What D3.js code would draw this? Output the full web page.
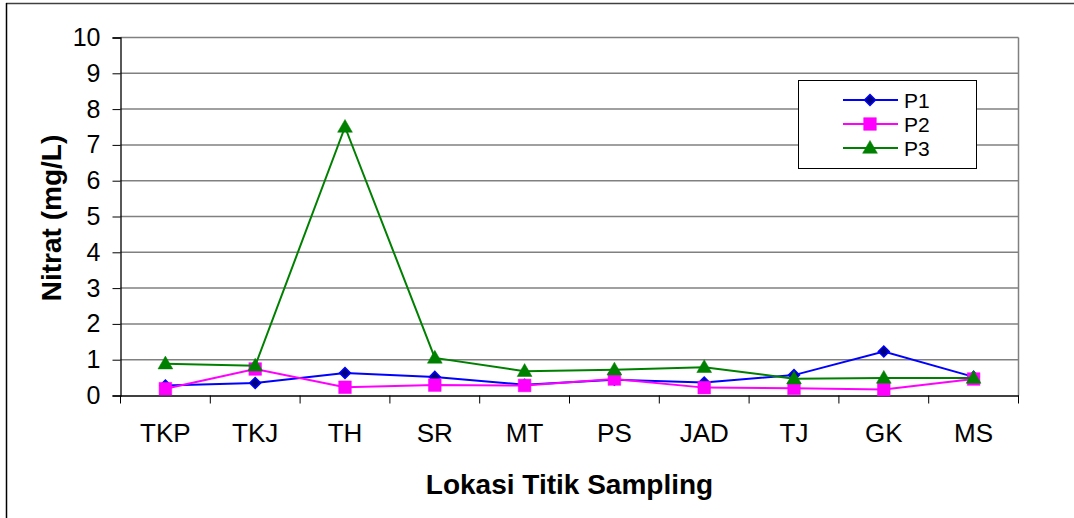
<!DOCTYPE html>
<html>
<head>
<meta charset="utf-8">
<script src="https://cdn.jsdelivr.net/npm/d3@7"></script>
<style>
html,body{margin:0;padding:0;background:#fff;}
svg{display:block;font-family:"Liberation Sans",Arial,sans-serif;}
</style>
</head>
<body>
<svg id="chart" width="1074" height="518"></svg>
<script>
const categories = ["TKP","TKJ","TH","SR","MT","PS","JAD","TJ","GK","MS"];
const p1 = [0.28,0.35,0.63,0.52,0.30,0.44,0.36,0.57,1.23,0.52];
const p2 = [0.19,0.74,0.23,0.29,0.28,0.46,0.22,0.20,0.17,0.46];
const p3 = [0.89,0.83,7.5,1.05,0.68,0.72,0.79,0.47,0.49,0.49];
const yTicks = [0,1,2,3,4,5,6,7,8,9,10];
const seriesNames = ["P1","P2","P3"];

const series = [
  {name: seriesNames[0], values: p1, color: "#0000ff", fill: "#000080", shape: d3.symbolSquare, size: 60, rot: 45},
  {name: seriesNames[1], values: p2, color: "#ff00ff", fill: "#ff00ff", shape: d3.symbolSquare, size: 160, rot: 0},
  {name: seriesNames[2], values: p3, color: "#008000", fill: "#008000", shape: d3.symbolTriangle, size: 95, rot: 0}
];

const svg = d3.select("#chart");
const L = 120.5, R = 1018.5, T = 37.5, B = 395.5;

// outer frame (top and left)
svg.append("line").attr("x1",6).attr("x2",1074).attr("y1",3.5).attr("y2",3.5).attr("stroke","#404040").attr("stroke-width",1.5);
svg.append("line").attr("x1",6.5).attr("x2",6.5).attr("y1",3).attr("y2",518).attr("stroke","#000").attr("stroke-width",1.5);

const x = d3.scaleBand().domain(categories).range([L, R]).padding(0);
const y = d3.scaleLinear().domain([0,10]).range([B, T]);

// gridlines
svg.append("g").selectAll("line").data(yTicks.filter(d=>d>0)).join("line")
  .attr("x1", L).attr("x2", R)
  .attr("y1", d=>y(d)).attr("y2", d=>y(d))
  .attr("stroke","#808080").attr("stroke-width",1.5);
// right border
svg.append("line").attr("x1",R).attr("x2",R).attr("y1",T).attr("y2",B).attr("stroke","#808080").attr("stroke-width",1.5);

// y axis
const yAxis = svg.append("g").attr("transform",`translate(${L},0)`)
  .call(d3.axisLeft(y).tickValues(yTicks).tickSize(8).tickPadding(12).tickFormat(d3.format("d")));
yAxis.select(".domain").attr("stroke","#000").attr("stroke-width",1.3);
yAxis.selectAll(".tick line").attr("stroke","#000");
yAxis.selectAll("text").attr("font-size",25).attr("fill","#000").attr("font-family","Liberation Sans, Arial, sans-serif");

// x axis
const xAxis = svg.append("g").attr("transform",`translate(0,${B})`)
  .call(d3.axisBottom(x).tickSize(0).tickPadding(28));
xAxis.select(".domain").attr("stroke","#000").attr("stroke-width",1.3);
xAxis.selectAll("text").attr("font-size",26).attr("fill","#000").attr("font-family","Liberation Sans, Arial, sans-serif");
// band-edge ticks
svg.append("g").selectAll("line").data(categories.concat(["_end"])).join("line")
  .attr("x1",(d,i)=> i<categories.length ? x(d) : R)
  .attr("x2",(d,i)=> i<categories.length ? x(d) : R)
  .attr("y1",B).attr("y2",B+8).attr("stroke","#000").attr("stroke-width",1);

// titles
svg.append("text").attr("x",(L+R)/2).attr("y",494).attr("text-anchor","middle")
  .attr("font-size",28).attr("font-weight","bold").text("Lokasi Titik Sampling");
svg.append("text").attr("transform","translate(61,218) rotate(-90)").attr("text-anchor","middle")
  .attr("font-size",28).attr("font-weight","bold").text("Nitrat (mg/L)");

// series
const line = d3.line().x((d,i)=>x(categories[i]) + x.bandwidth()/2).y(d=>y(d));
series.forEach(s=>{
  const g = svg.append("g");
  g.append("path").datum(s.values).attr("d",line).attr("fill","none").attr("stroke",s.color).attr("stroke-width",2);
  g.selectAll("path.m").data(s.values).join("path").attr("class","m")
    .attr("d", d3.symbol().type(s.shape).size(s.size))
    .attr("transform",(d,i)=>`translate(${x(categories[i]) + x.bandwidth()/2},${y(d) + (s.shape===d3.symbolTriangle?1:0)}) rotate(${s.rot})`)
    .attr("fill",s.fill).attr("stroke",s.color).attr("stroke-width",s.rot?1.5:0.5);
});

// legend
const lg = svg.append("g");
lg.append("rect").attr("x",798.5).attr("y",80.5).attr("width",178).attr("height",88)
  .attr("fill","#fff").attr("stroke","#000").attr("stroke-width",1);
const rowY = [100,124,148];
series.forEach((s,i)=>{
  lg.append("line").attr("x1",843).attr("x2",898).attr("y1",rowY[i]).attr("y2",rowY[i]).attr("stroke",s.color).attr("stroke-width",2);
  lg.append("path").attr("d",d3.symbol().type(s.shape).size(s.size))
    .attr("transform",`translate(870,${rowY[i] + (s.shape===d3.symbolTriangle?1:0)}) rotate(${s.rot})`)
    .attr("fill",s.fill).attr("stroke",s.color).attr("stroke-width",s.rot?1.5:0.5);
  lg.append("text").attr("x",904).attr("y",rowY[i]+8).attr("font-size",21).attr("fill","#000").text(s.name);
});
</script>
</body>
</html>
